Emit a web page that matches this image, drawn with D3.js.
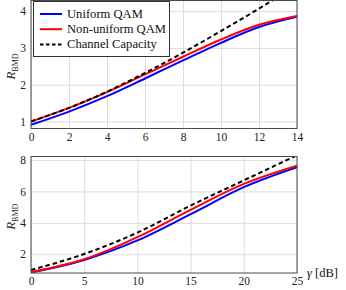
<!DOCTYPE html>
<html>
<head>
<meta charset="utf-8">
<script src="https://cdn.jsdelivr.net/npm/d3@7"></script>
<style>
  body { margin: 0; background: #fff; }
</style>
</head>
<body>
<script>
// top panel (gamma 0..14 dB)
const gammaHaut = [0, 2, 4, 6, 8, 10, 12, 14];
const uniformeHaut = [0.91, 1.27, 1.69, 2.17, 2.66, 3.14, 3.57, 3.85];
const nonUniformeHaut = [1.0, 1.37, 1.80, 2.28, 2.76, 3.23, 3.63, 3.87];
const capaciteHaut = [1.0, 1.37, 1.81, 2.32, 2.87, 3.46, 4.07, 4.71];
const ticksXHaut = [0, 2, 4, 6, 8, 10, 12, 14];
const ticksYHaut = [1, 2, 3, 4];

// bottom panel (gamma 0..25 dB)
const gammaBas = [0, 5, 10, 15, 20, 25];
const uniformeBas = [0.85, 1.64, 2.88, 4.55, 6.27, 7.54];
const nonUniformeBas = [0.86, 1.68, 3.09, 4.83, 6.48, 7.64];
const capaciteBas = [1.0, 2.02, 3.38, 5.1, 6.7, 8.3];
const ticksXBas = [0, 5, 10, 15, 20, 25];
const ticksYBas = [2, 4, 6, 8];

const legende = ["Uniform QAM", "Non-uniform QAM", "Channel Capacity"];

const police = "'Liberation Serif', 'DejaVu Serif', serif";
const largeur = 346, hauteur = 290;
const svg = d3.select("body").append("svg")
    .attr("width", largeur)
    .attr("height", hauteur)
    .attr("font-family", police);

const series = [
    {nom: legende[0], couleur: "#0000ff", dash: null},
    {nom: legende[1], couleur: "#ff0000", dash: null},
    {nom: legende[2], couleur: "#000000", dash: "4.5,3"}
];

function panneau(id, haut, bas, xDomain, yDomain, ticksX, ticksY, gamma, valeurs) {
    const gauche = 31, droite = 297;
    const x = d3.scaleLinear().domain(xDomain).range([gauche, droite]);
    const y = d3.scaleLinear().domain(yDomain).range([bas, haut]);

    // grille
    svg.append("g")
        .attr("transform", "translate(0," + bas + ")")
        .call(d3.axisBottom(x).tickValues(ticksX).tickSize(-(bas - haut)).tickFormat(""))
        .call(g => g.select(".domain").remove())
        .selectAll("line").attr("stroke", "#dcdcdc").attr("stroke-width", 1);
    svg.append("g")
        .attr("transform", "translate(" + gauche + ",0)")
        .call(d3.axisLeft(y).tickValues(ticksY).tickSize(-(droite - gauche)).tickFormat(""))
        .call(g => g.select(".domain").remove())
        .selectAll("line").attr("stroke", "#dcdcdc").attr("stroke-width", 1);

    // étiquettes des axes
    const axeX = svg.append("g")
        .attr("transform", "translate(0," + bas + ")")
        .call(d3.axisBottom(x).tickValues(ticksX).tickSize(0).tickPadding(4).tickFormat(d3.format("d")))
        .attr("font-family", police);
    axeX.select(".domain").remove();
    axeX.selectAll("text").attr("font-size", 11.5).attr("fill", "#222");

    const axeY = svg.append("g")
        .attr("transform", "translate(" + gauche + ",0)")
        .call(d3.axisLeft(y).tickValues(ticksY).tickSize(0).tickPadding(5).tickFormat(d3.format("d")))
        .attr("font-family", police);
    axeY.select(".domain").remove();
    axeY.selectAll("text").attr("font-size", 11.5).attr("fill", "#222");

    // clip
    svg.append("clipPath").attr("id", id)
        .append("rect")
        .attr("x", gauche).attr("y", haut)
        .attr("width", droite - gauche).attr("height", bas - haut);

    const ligne = d3.line()
        .x(d => x(d[0]))
        .y(d => y(d[1]))
        .curve(d3.curveMonotoneX);

    const g = svg.append("g").attr("clip-path", "url(#" + id + ")");
    valeurs.forEach(function(v, i) {
        g.append("path")
            .datum(gamma.map((gm, j) => [gm, v[j]]))
            .attr("fill", "none")
            .attr("stroke", series[i].couleur)
            .attr("stroke-width", 2)
            .attr("stroke-dasharray", series[i].dash);
    });
    g.selectAll("path").attr("d", ligne);

    // cadre
    svg.append("rect")
        .attr("x", gauche).attr("y", haut)
        .attr("width", droite - gauche).attr("height", bas - haut)
        .attr("fill", "none")
        .attr("stroke", "#4a4a4a")
        .attr("stroke-width", 1);

    // label R_BMD
    const ly = (haut + bas) / 2 + 2;
    const label = svg.append("text")
        .attr("transform", "translate(15," + ly + ") rotate(-90)")
        .attr("text-anchor", "middle")
        .attr("fill", "#222");
    label.append("tspan").attr("font-style", "italic").attr("font-size", 13).text("R");
    label.append("tspan").attr("font-size", 8).attr("dy", 2.5).text("BMD");

    return {x: x, y: y};
}

panneau("clipHaut", 0.5, 128.5, [0, 14], [0.81, 4.29], ticksXHaut, ticksYHaut, gammaHaut,
    [uniformeHaut, nonUniformeHaut, capaciteHaut]);
panneau("clipBas", 156.5, 273, [0, 25], [0.81, 8.22], ticksXBas, ticksYBas, gammaBas,
    [uniformeBas, nonUniformeBas, capaciteBas]);

// légende
const boite = svg.append("g");
boite.append("rect")
    .attr("x", 33.5).attr("y", 1.5)
    .attr("width", 136).attr("height", 55)
    .attr("fill", "#fff")
    .attr("stroke", "#333")
    .attr("stroke-width", 1);
series.forEach(function(s, i) {
    const yy = 14 + i * 15.2;
    boite.append("line")
        .attr("x1", 40).attr("x2", 62)
        .attr("y1", yy).attr("y2", yy)
        .attr("stroke", s.couleur)
        .attr("stroke-width", 2)
        .attr("stroke-dasharray", s.dash ? "3.5,2.5" : null);
    boite.append("text")
        .attr("x", 67).attr("y", yy + 4)
        .attr("font-size", 12.6)
        .attr("fill", "#111")
        .text(s.nom);
});

// label gamma [dB]
const lx = svg.append("text")
    .attr("x", 307).attr("y", 277)
    .attr("font-size", 12.5)
    .attr("fill", "#111");
lx.append("tspan").attr("font-style", "italic").text("γ");
lx.append("tspan").text(" [dB]");
</script>
</body>
</html>
